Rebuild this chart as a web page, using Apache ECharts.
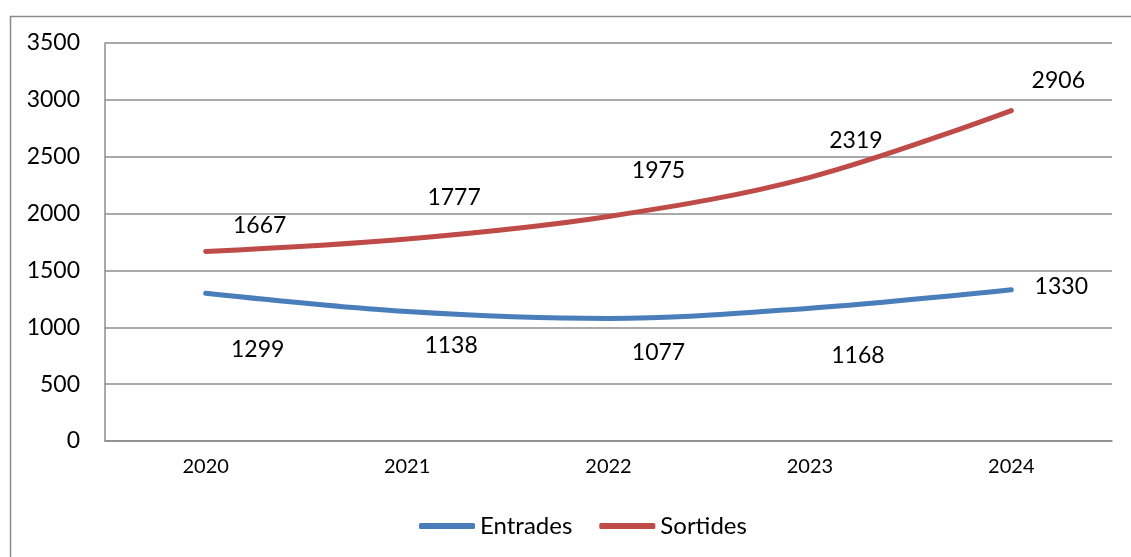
<!DOCTYPE html>
<html>
<head>
<meta charset="utf-8">
<script src="https://cdn.jsdelivr.net/npm/echarts@6/dist/echarts.min.js"></script>
<style>
  html, body { margin: 0; padding: 0; background: #fff; }
  #chart { width: 1131px; height: 557px; }
</style>
</head>
<body>
<div id="chart"></div>
<script>
  // dades
  var years = ['2020', '2021', '2022', '2023', '2024']
  var entrades = [1299, 1138, 1077, 1168, 1330]
  var sortides = [1667, 1777, 1975, 2319, 2906]
  var yTicks = [0, 500, 1000, 1500, 2000, 2500, 3000, 3500]

  // desplaçament de cada etiqueta respecte del punt
  var entradesLabelOffset = [[52, 56], [44, 34], [50, 34], [48, 47], [50, -3]]
  var sortidesLabelOffset = [[54, -26], [47, -41], [50, -46], [46, -37], [47, -30]]

  var font = 'Lato, "Open Sans", sans-serif'
  var blau = '#4a7ebb'
  var vermell = '#be4b48'

  function withLabels (values, offsets) {
    return values.map(function (v, i) {
      return {
        value: v,
        label: { offset: offsets[i] }
      }
    })
  }

  var chart = echarts.init(document.getElementById('chart'))
  var option = {
    animation: false,
    textStyle: { fontFamily: font },
    graphic: [{
      type: 'rect',
      left: 8,
      top: 14,
      shape: { width: 1200, height: 600 },
      style: { fill: 'none', stroke: '#8c8c8c', lineWidth: 1.5 },
      silent: true
    }],
    grid: { left: 105, right: 19, top: 43, bottom: 116 },
    xAxis: {
      type: 'category',
      data: years,
      boundaryGap: true,
      axisLine: { lineStyle: { color: '#8c8c8c', width: 1.5 } },
      axisTick: { show: false },
      axisLabel: { color: '#000', fontSize: 20, margin: 16, fontFamily: font }
    },
    yAxis: {
      type: 'value',
      min: yTicks[0],
      max: yTicks[yTicks.length - 1],
      interval: 500,
      axisLine: { show: true, lineStyle: { color: '#8c8c8c', width: 1.5 } },
      axisTick: { show: false },
      axisLabel: {
        color: '#000',
        fontSize: 23,
        margin: 25,
        fontFamily: font,
        formatter: function (v) { return String(v) }
      },
      splitLine: { lineStyle: { color: '#8c8c8c', width: 1.5 } }
    },
    legend: {
      bottom: 14,
      left: 414,
      itemWidth: 56,
      itemHeight: 6,
      itemGap: 27,
      textStyle: { color: '#000', fontSize: 24, fontFamily: font },
      data: [
        { name: 'Entrades', icon: 'roundRect', itemStyle: { color: blau, opacity: 1 } },
        { name: 'Sortides', icon: 'roundRect', itemStyle: { color: vermell, opacity: 1 } }
      ]
    },
    series: [
      {
        name: 'Entrades',
        type: 'line',
        smooth: 0.35,
        symbol: 'circle',
        symbolSize: 1,
        showSymbol: true,
        data: withLabels(entrades, entradesLabelOffset),
        lineStyle: { color: blau, width: 5, cap: 'round' },
        itemStyle: { color: blau },
        label: { show: true, position: 'inside', color: '#000', fontSize: 23, fontFamily: font }
      },
      {
        name: 'Sortides',
        type: 'line',
        smooth: 0.35,
        symbol: 'circle',
        symbolSize: 1,
        showSymbol: true,
        data: withLabels(sortides, sortidesLabelOffset),
        lineStyle: { color: vermell, width: 5, cap: 'round' },
        itemStyle: { color: vermell },
        label: { show: true, position: 'inside', color: '#000', fontSize: 23, fontFamily: font }
      }
    ]
  }
  chart.setOption(option)
</script>
</body>
</html>
